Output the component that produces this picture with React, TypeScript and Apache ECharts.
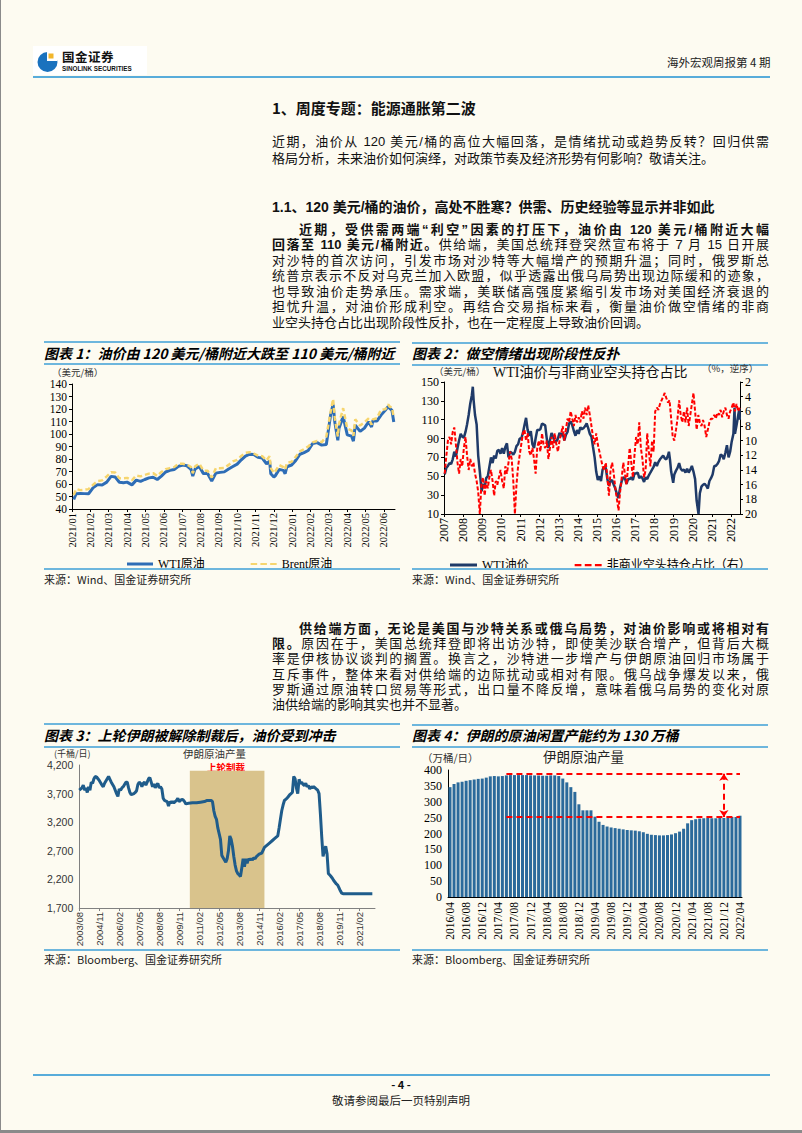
import React, { useEffect, useRef } from "react";
import * as echarts from "echarts";

const SERIF = "'Liberation Serif','Noto Sans CJK SC',serif";
const SANS = "'Liberation Sans','Noto Sans CJK SC',sans-serif";
const CJK = "'Noto Sans CJK SC','Liberation Sans',sans-serif";
const FRAME = "#6DB6DD";

/* ---------------- Chart 1 data ---------------- */
const c1Dates = [
  "2021-01-04","2021-01-08","2021-01-15","2021-01-22","2021-01-29","2021-02-05","2021-02-12","2021-02-19","2021-02-26",
  "2021-03-05","2021-03-12","2021-03-19","2021-03-26","2021-04-01","2021-04-09","2021-04-16","2021-04-23","2021-04-30",
  "2021-05-07","2021-05-14","2021-05-21","2021-05-28","2021-06-04","2021-06-11","2021-06-18","2021-06-25","2021-07-02",
  "2021-07-09","2021-07-16","2021-07-19","2021-07-23","2021-07-30","2021-08-06","2021-08-13","2021-08-20","2021-08-27",
  "2021-09-03","2021-09-10","2021-09-17","2021-09-24","2021-10-01","2021-10-08","2021-10-15","2021-10-22","2021-10-29",
  "2021-11-05","2021-11-12","2021-11-19","2021-11-24","2021-11-26","2021-12-01","2021-12-03","2021-12-10","2021-12-17",
  "2021-12-20","2021-12-23","2021-12-31","2022-01-07","2022-01-14","2022-01-21","2022-01-28","2022-02-04","2022-02-11",
  "2022-02-18","2022-02-25","2022-03-04","2022-03-08","2022-03-11","2022-03-16","2022-03-18","2022-03-25","2022-04-01",
  "2022-04-08","2022-04-11","2022-04-14","2022-04-22","2022-04-29","2022-05-06","2022-05-11","2022-05-13","2022-05-20",
  "2022-05-27","2022-06-03","2022-06-08","2022-06-10","2022-06-14","2022-06-17",
];
const c1Wti = [
  47.6,52.2,52.4,52.3,52.2,56.9,59.5,59.2,61.5,66.1,65.6,61.4,61.0,61.5,59.3,63.1,62.1,63.6,64.9,65.4,63.6,66.3,69.6,70.9,71.6,74.1,75.2,
  74.6,71.8,66.4,72.1,74.0,68.3,68.4,62.3,68.7,69.3,69.7,72.0,74.0,75.9,79.4,82.3,83.8,83.6,81.3,80.8,76.1,78.4,68.2,65.6,66.3,71.7,70.9,
  68.2,73.8,75.2,78.9,83.8,85.1,86.8,92.3,93.1,91.1,91.6,115.7,123.7,109.3,95.0,104.7,113.9,99.3,98.3,94.3,107.0,102.1,104.7,109.8,105.7,
  110.5,110.3,115.1,118.9,122.1,120.7,118.9,109.6,
];
const c1Brent = [
  51.1,56.0,55.1,55.4,55.9,59.3,62.4,62.9,66.1,69.4,69.2,64.5,64.6,64.9,63.0,66.8,66.1,67.3,68.3,68.7,66.4,69.6,71.9,72.7,73.5,76.2,76.2,
  75.6,73.6,68.6,74.1,76.3,70.7,70.6,65.2,72.7,72.6,72.9,75.3,78.1,79.3,82.4,84.9,85.5,84.4,82.7,82.2,78.9,82.3,72.7,68.9,69.9,75.2,73.5,
  71.5,76.9,77.8,81.8,86.1,87.9,90.0,93.3,94.4,93.5,97.9,118.1,128.0,112.7,98.0,107.9,120.7,104.4,102.8,98.5,111.7,106.7,109.3,112.4,107.5,
  111.6,112.6,119.4,119.7,123.6,122.0,121.2,113.1,
];
const c1Months = ["2021/01","2021/02","2021/03","2021/04","2021/05","2021/06","2021/07","2021/08","2021/09","2021/10","2021/11","2021/12",
  "2022/01","2022/02","2022/03","2022/04","2022/05","2022/06"];

/* ---------------- Chart 2 data ---------------- */
const c2Wti: [string, number][] = [
  ["2007-01",52],["2007-02",59],["2007-03",61],["2007-04",64],["2007-05",63],["2007-06",68],["2007-07",76],["2007-08",71],["2007-09",80],
  ["2007-10",88],["2007-11",95],["2007-12",92],["2008-01",91],["2008-02",97],["2008-03",105],["2008-04",115],["2008-05",127],["2008-06",136],
  ["2008-07-03",145],["2008-07-20",130],["2008-08",115],["2008-09",105],["2008-10",72],["2008-11",55],["2008-12-20",34],["2009-01",42],
  ["2009-02",38],["2009-03",48],["2009-04",50],["2009-05",60],["2009-06",70],["2009-07",64],["2009-08",72],["2009-09",69],["2009-10",77],
  ["2009-11",78],["2009-12",74],["2010-01",80],["2010-02",74],["2010-03",81],["2010-04",85],["2010-05",70],["2010-06",76],["2010-07",75],
  ["2010-08",73],["2010-09",76],["2010-10",82],["2010-11",84],["2010-12",90],["2011-01",90],["2011-02",96],["2011-03",104],["2011-04",112],
  ["2011-05",99],["2011-06",93],["2011-07",98],["2011-08",84],["2011-09",80],["2011-10",90],["2011-11",99],["2011-12",99],["2012-01",100],
  ["2012-02",106],["2012-03",105],["2012-04",104],["2012-05",90],["2012-06",80],["2012-07",88],["2012-08",96],["2012-09",92],["2012-10",86],
  ["2012-11",87],["2012-12",90],["2013-01",96],["2013-02",93],["2013-03",96],["2013-04",88],["2013-05",94],["2013-06",97],["2013-07",106],
  ["2013-08",108],["2013-09",104],["2013-10",98],["2013-11",93],["2013-12",99],["2014-01",95],["2014-02",102],["2014-03",100],["2014-04",101],
  ["2014-05",103],["2014-06",106],["2014-07",101],["2014-08",95],["2014-09",92],["2014-10",81],["2014-11",70],["2014-12",55],["2015-01",46],
  ["2015-02",50],["2015-03",45],["2015-04",57],["2015-05",60],["2015-06",59],["2015-07",47],["2015-08",40],["2015-09",45],["2015-10",46],
  ["2015-11",41],["2015-12",37],["2016-01",31],["2016-02-11",27],["2016-03",38],["2016-04",45],["2016-05",49],["2016-06",48],["2016-07",42],
  ["2016-08",47],["2016-09",47],["2016-10",49],["2016-11",46],["2016-12",53],["2017-01",53],["2017-02",54],["2017-03",48],["2017-04",50],
  ["2017-05",48],["2017-06",44],["2017-07",49],["2017-08",47],["2017-09",51],["2017-10",54],["2017-11",57],["2017-12",60],["2018-01",65],
  ["2018-02",61],["2018-03",65],["2018-04",68],["2018-05",70],["2018-06",72],["2018-07",69],["2018-08",68],["2018-09",72],["2018-10-03",76],
  ["2018-10-25",67],["2018-11",55],["2018-12-24",43],["2019-01",52],["2019-02",56],["2019-03",59],["2019-04",64],["2019-05",58],["2019-06",56],
  ["2019-07",57],["2019-08",54],["2019-09",58],["2019-10",54],["2019-11",57],["2019-12",61],["2020-01",55],["2020-02",47],["2020-03",24],
  ["2020-04-20",10],["2020-05",32],["2020-06",39],["2020-07",41],["2020-08",42],["2020-09",40],["2020-10",37],["2020-11",45],["2020-12",48],
  ["2021-01",52],["2021-02",61],["2021-03",61],["2021-04",63],["2021-05",66],["2021-06",73],["2021-07",72],["2021-08",68],["2021-09",75],
  ["2021-10",83],["2021-11",70],["2021-12",76],["2022-01",87],["2022-02",95],["2022-03-08",123],["2022-03-16",95],["2022-04",104],
  ["2022-05",114],["2022-06-08",122],["2022-06-17",110],
];
const c2Short: [string, number][] = [
  ["2007-01",14.5],["2007-02",12],["2007-03",10],["2007-04",9.5],["2007-05",10.5],["2007-06",8.8],["2007-07",8.2],["2007-08",10.5],
  ["2007-09",13],["2007-10",14.5],["2007-11",12.5],["2007-12",13.5],["2008-01",11],["2008-02",9.5],["2008-03",12],["2008-04",14],
  ["2008-05",12.5],["2008-06",13.5],["2008-07",13],["2008-08",14.5],["2008-09",15.5],["2008-10",17],["2008-11",20],["2008-12",16],
  ["2009-01",15],["2009-02",17.5],["2009-03",15.5],["2009-04",16.5],["2009-05",15],["2009-06",14],["2009-07",15.5],["2009-08",17.5],
  ["2009-09",15.5],["2009-10",16],["2009-11",15],["2009-12",14],["2010-01",15.5],["2010-02",16.5],["2010-03",13.5],["2010-04",14.5],
  ["2010-05",13],["2010-06",11.5],["2010-07",12.5],["2010-08",15.5],["2010-09",20],["2010-10",16],["2010-11",13.5],["2010-12",12],
  ["2011-01",10.5],["2011-02",9],["2011-03",8.5],["2011-04",10],["2011-05",9],["2011-06",11.5],["2011-07",12],["2011-08",11],
  ["2011-09",12.5],["2011-10",14.5],["2011-11",11],["2011-12",10],["2012-01",11.5],["2012-02",9],["2012-03",10.5],["2012-04",11],
  ["2012-05",10],["2012-06",12.5],["2012-07",11],["2012-08",9.5],["2012-09",11],["2012-10",9],["2012-11",10.5],["2012-12",11.5],
  ["2013-01",10],["2013-02",9],["2013-03",8],["2013-04",10],["2013-05",8.5],["2013-06",7],["2013-07",7.5],["2013-08",6],
  ["2013-09",7],["2013-10",8],["2013-11",6.5],["2013-12",7.5],["2014-01",6.8],["2014-02",7.5],["2014-03",6],["2014-04",7],
  ["2014-05",5.5],["2014-06",6.5],["2014-07",5.2],["2014-08",6.5],["2014-09",8],["2014-10",9.5],["2014-11",10.5],["2014-12",9],
  ["2015-01",10.5],["2015-02",11.5],["2015-03",12.5],["2015-04",13.5],["2015-05",14],["2015-06",13],["2015-07",15],["2015-08",17.5],
  ["2015-09",14],["2015-10",13],["2015-11",14.5],["2015-12",16.5],["2016-01",18],["2016-02",19.5],["2016-03",17],["2016-04",15],
  ["2016-05",13],["2016-06",14.5],["2016-07",16],["2016-08",13.5],["2016-09",11],["2016-10",13],["2016-11",15],["2016-12",12],
  ["2017-01",9.5],["2017-02",10.5],["2017-03",7.5],["2017-04",11],["2017-05",12.5],["2017-06",15],["2017-07",14],["2017-08",9],
  ["2017-09",11.5],["2017-10",13.5],["2017-11",10],["2017-12",11.5],["2018-01",6],["2018-02",5.5],["2018-03",5.8],["2018-04",5],
  ["2018-05",4.5],["2018-06",4],["2018-07",3.5],["2018-08",4.2],["2018-09",4.8],["2018-10",4.5],["2018-11",7],["2018-12",9.5],
  ["2019-01",10],["2019-02",8.5],["2019-03",7],["2019-04",4.5],["2019-05",6.5],["2019-06",7.5],["2019-07",6],["2019-08",7.5],
  ["2019-09",5.5],["2019-10",8],["2019-11",6.5],["2019-12",5],["2020-01",3.5],["2020-02",6],["2020-03",8.5],["2020-04",6.5],
  ["2020-05",7.5],["2020-06",8],["2020-07",7.2],["2020-08",8],["2020-09",9.5],["2020-10",8.5],["2020-11",7.5],["2020-12",7],
  ["2021-01",7],["2021-02",6.5],["2021-03",7],["2021-04",6.2],["2021-05",6.5],["2021-06",5.8],["2021-07",6.8],["2021-08",6],
  ["2021-09",5.5],["2021-10",6.5],["2021-11",7],["2021-12",6],["2022-01",5.5],["2022-02",4.8],["2022-03",6],["2022-04",5],
  ["2022-05",6],["2022-06",5.5],
];

/* ---------------- Chart 3 data ---------------- */
const c3Iran: [string, number][] = [
  ["2003/08",3760],["2003/10",3800],["2003/11",3850],["2003/12",3760],["2004/01",3800],["2004/02",3720],["2004/03",3820],["2004/04",3760],
  ["2004/05",3900],["2004/06",3880],["2004/07",3960],["2004/08",4000],["2004/09",3990],["2004/10",3960],["2004/11",3930],["2004/12",3890],
  ["2005/01",3850],["2005/02",3820],["2005/03",3880],["2005/04",3920],["2005/05",3960],["2005/06",4000],["2005/07",3950],["2005/08",3900],
  ["2005/09",3860],["2005/10",3820],["2005/11",3760],["2005/12",3700],["2006/01",3650],["2006/02",3780],["2006/03",3760],["2006/04",3800],
  ["2006/05",3820],["2006/06",3860],["2006/07",3900],["2006/08",3900],["2006/09",3800],["2006/10",3720],["2006/11",3680],["2006/12",3690],
  ["2007/01",3700],["2007/02",3720],["2007/03",3750],["2007/04",3860],["2007/05",3900],["2007/06",3880],["2007/07",3820],["2007/08",3880],
  ["2007/09",3900],["2007/10",3850],["2007/11",3900],["2007/12",3960],["2008/01",3980],["2008/02",3900],["2008/03",3820],["2008/04",3870],
  ["2008/05",3800],["2008/06",3850],["2008/07",3880],["2008/08",3800],["2008/09",3820],["2008/10",3780],["2008/11",3620],["2008/12",3580],
  ["2009/01",3570],["2009/02",3560],["2009/03",3480],["2009/04",3560],["2009/05",3540],["2009/06",3560],["2009/07",3540],["2009/08",3560],
  ["2009/09",3580],["2009/10",3620],["2009/11",3560],["2009/12",3580],["2010/01",3600],["2010/02",3590],["2010/03",3560],["2010/04",3520],
  ["2010/06",3530],["2010/09",3540],["2010/12",3540],["2011/03",3550],["2011/06",3560],["2011/08",3580],["2011/11",3580],["2011/12",3560],
  ["2012/01",3400],["2012/02",3300],["2012/03",3250],["2012/04",3100],["2012/05",3000],["2012/06",2900],["2012/07",2620],["2012/08",2580],
  ["2012/09",2540],["2012/10",2500],["2012/11",2560],["2012/12",2700],["2013/01",2960],["2013/02",2900],["2013/03",2780],["2013/04",2600],
  ["2013/05",2450],["2013/06",2350],["2013/07",2300],["2013/08",2280],["2013/09",2250],["2013/10",2400],["2013/11",2560],["2013/12",2420],
  ["2014/01",2560],["2014/02",2480],["2014/03",2560],["2014/04",2540],["2014/05",2560],["2014/06",2540],["2014/07",2580],["2014/08",2560],
  ["2014/09",2600],["2014/10",2620],["2014/11",2640],["2015/01",2660],["2015/03",2760],["2015/05",2800],["2015/07",2840],["2015/09",2880],
  ["2015/11",2920],["2016/01",2960],["2016/02",3100],["2016/03",3250],["2016/04",3400],["2016/05",3500],["2016/06",3580],["2016/07",3600],
  ["2016/08",3620],["2016/09",3650],["2016/10",3680],["2016/11",3700],["2016/12",3720],["2017/01",4000],["2017/02",3960],["2017/03",3800],
  ["2017/04",3700],["2017/05",3950],["2017/06",3880],["2017/07",3900],["2017/08",3860],["2017/09",3840],["2017/10",3880],["2017/11",3820],
  ["2017/12",3840],["2018/01",3780],["2018/02",3820],["2018/03",3800],["2018/04",3820],["2018/05",3800],["2018/06",3780],["2018/07",3760],
  ["2018/08",3700],["2018/09",3350],["2018/10",2950],["2018/11",2600],["2018/12",2700],["2019/01",2780],["2019/02",2650],["2019/03",2300],
  ["2019/04",2280],["2019/05",2250],["2019/06",2220],["2019/07",2180],["2019/08",2150],["2019/09",2120],["2019/10",2100],["2019/11",2050],
  ["2019/12",2000],["2020/01",1960],["2020/02",1950],["2021/12",1950],
];
const c3SanctionStart = "2010/07";
const c3SanctionEnd = "2015/03";
const c3SanctionTop = 4100;

/* ---------------- Chart 4 data ---------------- */
const c4Start = "2016/04";
const c4Values = [
  346,356,361,363,366,368,370,372,373,
  376,380,381,380,381,383,384,384,384,384,384,383,
  383,383,382,382,383,383,381,373,361,346,331,292,
  273,273,273,253,237,227,222,219,217,215,213,211,
  210,209,207,204,199,196,195,194,194,195,197,201,
  206,215,232,242,245,247,248,249,248,248,249,249,
  250,252,252,256,
];
const c4High = 388;
const c4Low = 252;
const c4LineFrom = "2017/06";
const c4ArrowAt = "2021/12";

/* ---------------- helpers ---------------- */
const dim = (y: number, m: number) => new Date(y, m, 0).getDate();
function c1Idx(s: string) {
  const [y, m, d] = s.split("-").map(Number);
  return (y - 2021) * 12 + (m - 1) + (d - 1) / dim(y, m);
}
function yearDec(s: string) {
  const p = s.split("-").map(Number);
  const d = p[2] ?? 15;
  return p[0] + (p[1] - 1) / 12 + (d - 1) / (12 * dim(p[0], p[1]));
}
function c3Idx(s: string) {
  const [y, m] = s.split("/").map(Number);
  return (y - 2003) * 12 + (m - 8);
}
function c3Label(i: number) {
  const t = 7 + i;
  return `${2003 + Math.floor(t / 12)}/${String((t % 12) + 1).padStart(2, "0")}`;
}
function monthSeq(start: string, n: number) {
  const [y0, m0] = start.split("/").map(Number);
  const out: string[] = [];
  for (let i = 0; i < n; i++) {
    const t = m0 - 1 + i;
    out.push(`${y0 + Math.floor(t / 12)}/${String((t % 12) + 1).padStart(2, "0")}`);
  }
  return out;
}
const c4Cats = monthSeq(c4Start, c4Values.length);

const axBlack = { lineStyle: { color: "#000", width: 1 } };
const DASH_ICON = "path://M0 0H6V2H0Z M9 0H15V2H9Z M18 0H24V2H18Z";

/* ---------------- options ---------------- */
const opt1: any = {
  animation: false,
  textStyle: { fontFamily: SERIF },
  grid: { left: 28, top: 26, width: 323, height: 125 },
  graphic: [{ type: "text", left: 8, top: 9, style: { text: "（美元/桶）", fontSize: 9.5, fill: "#333", fontFamily: CJK } }],
  legend: {
    left: 83, top: 200, padding: 0, itemWidth: 26, itemHeight: 3, itemGap: 46,
    textStyle: { fontSize: 12, fontFamily: SERIF, color: "#000" },
    data: [{ name: "WTI原油", icon: "rect" }, { name: "Brent原油", icon: DASH_ICON }],
  },
  xAxis: {
    type: "value", min: 0, max: 17.6, interval: 1,
    axisLine: axBlack, axisTick: { show: true, length: 3, lineStyle: { color: "#000" } }, splitLine: { show: false },
    axisLabel: { rotate: 90, fontSize: 10.5, color: "#000", margin: 4, showMaxLabel: false,
      formatter: (v: number) => (Number.isInteger(v) && c1Months[v] ? c1Months[v] : "") },
  },
  yAxis: {
    type: "value", min: 40, max: 140, interval: 10,
    axisLine: { show: true, ...axBlack }, axisTick: { show: true, length: 3, lineStyle: { color: "#000" } },
    splitLine: { show: false }, axisLabel: { fontSize: 11.5, color: "#000", margin: 5 },
  },
  series: [
    { name: "WTI原油", type: "line", symbol: "none", data: c1Dates.map((d, i) => [c1Idx(d), c1Wti[i]]),
      lineStyle: { color: "#2E6DB6", width: 3 }, itemStyle: { color: "#2E6DB6" } },
    { name: "Brent原油", type: "line", symbol: "none", data: c1Dates.map((d, i) => [c1Idx(d), c1Brent[i]]),
      lineStyle: { color: "#F6D56E", width: 2.5, type: [5, 3] }, itemStyle: { color: "#F6D56E" } },
  ],
};

const opt2: any = {
  animation: false,
  textStyle: { fontFamily: SERIF },
  grid: { left: 32, top: 24, width: 296, height: 132 },
  graphic: [
    { type: "text", left: 22, top: 8, style: { text: "（美元/桶）", fontSize: 9.5, fill: "#333", fontFamily: CJK } },
    { type: "text", left: 81, top: 7, style: { text: "WTI油价与非商业空头持仓占比", fontSize: 14, fill: "#111", fontFamily: SERIF } },
    { type: "text", left: 290, top: 5, style: { text: "（%，逆序）", fontSize: 9.5, fill: "#333", fontFamily: CJK } },
  ],
  legend: {
    left: 38, top: 201, padding: 0, itemWidth: 27, itemHeight: 3, itemGap: 46,
    textStyle: { fontSize: 12, fontFamily: SERIF, color: "#000" },
    data: [{ name: "WTI油价", icon: "rect" }, { name: "非商业空头持仓占比（右）", icon: DASH_ICON }],
  },
  xAxis: {
    type: "value", min: 2007, max: 2022.47, interval: 1,
    axisLine: axBlack, axisTick: { show: true, length: 3, lineStyle: { color: "#000" } }, splitLine: { show: false },
    axisLabel: { rotate: 90, fontSize: 12, color: "#000", margin: 4, showMaxLabel: false,
      formatter: (v: number) => (Number.isInteger(v) ? String(v) : "") },
  },
  yAxis: [
    { type: "value", min: 10, max: 150, interval: 20, position: "left",
      axisLine: { show: true, ...axBlack }, axisTick: { show: true, length: 3, lineStyle: { color: "#000" } },
      splitLine: { show: false }, axisLabel: { fontSize: 12, color: "#000", margin: 5 } },
    { type: "value", min: 2, max: 20, interval: 2, inverse: true, position: "right",
      axisLine: { show: true, ...axBlack }, axisTick: { show: true, length: 3, lineStyle: { color: "#000" } },
      splitLine: { show: false }, axisLabel: { fontSize: 12, color: "#000", margin: 5 } },
  ],
  series: [
    { name: "WTI油价", type: "line", symbol: "none", yAxisIndex: 0, data: c2Wti.map(([d, v]) => [yearDec(d), v]),
      lineStyle: { color: "#1F3A68", width: 2.5 }, itemStyle: { color: "#1F3A68" } },
    { name: "非商业空头持仓占比（右）", type: "line", symbol: "none", yAxisIndex: 1, data: c2Short.map(([d, v]) => [yearDec(d), v]),
      lineStyle: { color: "#FF0000", width: 2, type: [4, 2] }, itemStyle: { color: "#FF0000" } },
  ],
};

const c3Blue = "#1F5C8B";
const opt3: any = {
  animation: false,
  textStyle: { fontFamily: SANS },
  grid: { left: 31, top: 21, width: 300, height: 143 },
  graphic: [
    { type: "text", left: 10, top: 5, style: { text: "(千桶/日)", fontSize: 9, fill: "#333", fontFamily: CJK } },
    { type: "text", left: 139, top: 4, style: { text: "伊朗原油产量", fontSize: 10.5, fill: "#333", fontFamily: CJK } },
    { type: "text", left: 163, top: 18, style: { text: "上轮制裁", fontSize: 9.5, fontWeight: "bold", fill: "#FF0000", fontFamily: CJK } },
  ],
  xAxis: {
    type: "value", min: 0, max: 222, interval: 15,
    axisLine: { lineStyle: { color: "#808080" } }, axisTick: { show: true, length: 3, lineStyle: { color: "#808080" } },
    splitLine: { show: false },
    axisLabel: { rotate: 90, fontSize: 9.5, color: "#333", margin: 4, showMaxLabel: false,
      formatter: (v: number) => (v % 15 === 0 ? c3Label(v) : "") },
  },
  yAxis: {
    type: "value", min: 1700, max: 4200, interval: 500,
    axisLine: { show: true, lineStyle: { color: "#808080" } }, axisTick: { show: false },
    splitLine: { show: false },
    axisLabel: { fontSize: 10.5, color: "#333", margin: 6, formatter: (v: number) => v.toLocaleString("en-US") },
  },
  visualMap: [{
    type: "piecewise", show: false, dimension: 0, seriesIndex: 0,
    pieces: [
      { lt: c3Idx(c3SanctionStart), color: c3Blue },
      { gte: c3Idx(c3SanctionStart), lte: c3Idx(c3SanctionEnd), color: "#3B5A4E" },
      { gt: c3Idx(c3SanctionEnd), color: c3Blue },
    ],
  }],
  series: [
    { type: "line", symbol: "none", data: c3Iran.map(([d, v]) => [c3Idx(d), v]),
      lineStyle: { color: c3Blue, width: 3 }, z: 3,
      markArea: { silent: true, itemStyle: { color: "#D9C38C" },
        data: [[{ xAxis: c3Idx(c3SanctionStart), yAxis: 1700 }, { xAxis: c3Idx(c3SanctionEnd), yAxis: c3SanctionTop }]] } },
  ],
};

const opt4: any = {
  animation: false,
  textStyle: { fontFamily: SERIF },
  grid: { left: 36, top: 26, width: 294, height: 127 },
  graphic: [
    { type: "text", left: 10, top: 8, style: { text: "（万桶/日）", fontSize: 10.5, fill: "#333", fontFamily: CJK } },
    { type: "text", left: 131, top: 5, style: { text: "伊朗原油产量", fontSize: 13.5, fill: "#222", fontFamily: CJK } },
  ],
  xAxis: {
    type: "category", data: c4Cats,
    axisLine: axBlack, axisTick: { show: false },
    axisLabel: { rotate: 90, interval: 3, fontSize: 11.5, color: "#000", margin: 5 },
  },
  yAxis: {
    type: "value", min: 0, max: 400, interval: 50,
    axisLine: { show: true, ...axBlack }, axisTick: { show: false },
    splitLine: { show: false }, axisLabel: { fontSize: 12, color: "#000", margin: 6 },
  },
  series: [{
    type: "bar", data: c4Values, barWidth: 3, itemStyle: { color: "#2B6A9B" },
    markLine: {
      silent: true, symbol: ["none", "none"], label: { show: false },
      lineStyle: { color: "#FF0000", type: [6, 4], width: 2 },
      data: [
        [{ coord: [c4LineFrom, c4High] }, { coord: [c4Cats[c4Cats.length - 1], c4High] }],
        [{ coord: [c4LineFrom, c4Low] }, { coord: [c4Cats[c4Cats.length - 1], c4Low] }],
        [{ coord: [c4ArrowAt, c4High], symbol: "arrow", symbolSize: 7 }, { coord: [c4ArrowAt, c4Low], symbol: "arrow", symbolSize: 7 }],
      ],
    },
  }],
};

/* ---------------- components ---------------- */
function EChart({ option, left, top, width, height }: any) {
  const ref = useRef<HTMLDivElement>(null);
  useEffect(() => {
    const chart = echarts.init(ref.current!, null, { renderer: "svg" });
    chart.setOption(option);
    return () => chart.dispose();
  }, [option]);
  return <div ref={ref} style={{ position: "absolute", left, top, width, height }} />;
}

const Hl = ({ x1, x2, y, w = 1.5, c = FRAME }: any) => (
  <div style={{ position: "absolute", left: x1, top: y - w / 2, width: x2 - x1, height: w, background: c }} />
);

const Line = ({ y, children, last = false, indent = 0, left = 272, width = 497 }: any) => (
  <div style={{
    position: "absolute", left: left + indent, top: y - 6.5, width: width - indent, height: 13,
    fontSize: 13, lineHeight: "13px", color: "#111", fontFamily: SANS,
    textAlign: last ? "left" : "justify", textAlignLast: last ? "left" : "justify",
  } as any}>{children}</div>
);

const Title = ({ x, y, children }: any) => (
  <div style={{ position: "absolute", left: x, top: y - 9, height: 18, lineHeight: "18px", fontSize: 14, fontWeight: 700,
    fontStyle: "italic", color: "#000", fontFamily: CJK, whiteSpace: "nowrap" }}>{children}</div>
);

const Src = ({ x, y, children }: any) => (
  <div style={{ position: "absolute", left: x, top: y - 7, lineHeight: "14px", fontSize: 11, color: "#222", fontFamily: CJK,
    whiteSpace: "nowrap" }}>{children}</div>
);

export default function App() {
  return (
    <div style={{ position: "absolute", left: 0, top: 0, width: 802, height: 1133, background: "#FDFBF1", overflow: "hidden",
      fontFamily: CJK }}>
      <div style={{ position: "absolute", left: 0, top: 0, width: 1, height: 1133, background: "#8a8a8a" }} />
      <div style={{ position: "absolute", left: 0, top: 1130, width: 802, height: 3, background: "#8a8a8a" }} />

      {/* header */}
      <div style={{ position: "absolute", left: 33, top: 46, width: 114, height: 29, background: "#FFFFFF" }} />
      <svg style={{ position: "absolute", left: 37, top: 49 }} width="22" height="24" viewBox="0 0 22 24">
        <circle cx="10.5" cy="13" r="10" fill="#1A72BE" />
        <rect x="10" y="3" width="10" height="9" fill="#FFFFFF" />
        <rect x="11.5" y="4.5" width="5" height="5" fill="#F2B62B" />
      </svg>
      <div style={{ position: "absolute", left: 62, top: 49, fontSize: 12.5, fontWeight: 700, lineHeight: "15px", color: "#111",
        letterSpacing: 0.5 }}>国金证券</div>
      <div style={{ position: "absolute", left: 62, top: 65, fontSize: 6.3, fontWeight: 700, lineHeight: "8px", color: "#111",
        fontFamily: SANS, whiteSpace: "nowrap" }}>SINOLINK SECURITIES</div>
      <div style={{ position: "absolute", left: 667, top: 55, fontSize: 11.5, lineHeight: "14px", color: "#222",
        whiteSpace: "nowrap" }}>海外宏观周报第 4 期</div>
      <Hl x1={33} x2={770} y={77} w={2} c="#58ACDA" />

      {/* headings + text */}
      <div style={{ position: "absolute", left: 272, top: 99, fontSize: 15, fontWeight: 700, lineHeight: "18px", color: "#111" }}>
        1、周度专题：能源通胀第二波
      </div>
      <Line y={141}>近期，油价从 120 美元/桶的高位大幅回落，是情绪扰动或趋势反转？回归供需</Line>
      <Line y={158} last>格局分析，未来油价如何演绎，对政策节奏及经济形势有何影响？敬请关注。</Line>

      <div style={{ position: "absolute", left: 272, top: 198, fontSize: 14, fontWeight: 700, lineHeight: "18px", color: "#111",
        whiteSpace: "nowrap", fontFamily: SANS }}>
        1.1、120 美元/桶的油价，高处不胜寒？供需、历史经验等显示并非如此
      </div>
      <Line y={229} indent={27}><b>近期，受供需两端“利空”因素的打压下，油价由 120 美元/桶附近大幅</b></Line>
      <Line y={244.5}><b>回落至 110 美元/桶附近。</b>供给端，美国总统拜登突然宣布将于 7 月 15 日开展</Line>
      <Line y={260}>对沙特的首次访问，引发市场对沙特等大幅增产的预期升温；同时，俄罗斯总</Line>
      <Line y={275.5}>统普京表示不反对乌克兰加入欧盟，似乎透露出俄乌局势出现边际缓和的迹象，</Line>
      <Line y={291}>也导致油价走势承压。需求端，美联储高强度紧缩引发市场对美国经济衰退的</Line>
      <Line y={306.5}>担忧升温，对油价形成利空。再结合交易指标来看，衡量油价做空情绪的非商</Line>
      <Line y={322} last>业空头持仓占比出现阶段性反扑，也在一定程度上导致油价回调。</Line>

      {/* chart 1 & 2 frames */}
      <Hl x1={44} x2={400} y={342} />
      <Title x={44} y={353}>图表 1：油价由 120 美元/桶附近大跌至 110 美元/桶附近</Title>
      <Hl x1={44} x2={400} y={364} />
      <EChart option={opt1} left={44} top={358} width={356} height={216} />
      <Hl x1={44} x2={400} y={569} />
      <Src x={44} y={579}>来源：Wind、国金证券研究所</Src>

      <Hl x1={412} x2={768} y={343} />
      <Title x={412} y={353}>图表 2：做空情绪出现阶段性反扑</Title>
      <Hl x1={412} x2={768} y={365} />
      <EChart option={opt2} left={412} top={358} width={356} height={216} />
      <Hl x1={412} x2={768} y={569} />
      <Src x={412} y={579}>来源：Wind、国金证券研究所</Src>

      {/* second text block */}
      <Line y={628} indent={27}><b>供给端方面，无论是美国与沙特关系或俄乌局势，对油价影响或将相对有</b></Line>
      <Line y={643}><b>限。</b>原因在于，美国总统拜登即将出访沙特，即使美沙联合增产，但背后大概</Line>
      <Line y={658.5}>率是伊核协议谈判的搁置。换言之，沙特进一步增产与伊朗原油回归市场属于</Line>
      <Line y={674}>互斥事件，整体来看对供给端的边际扰动或相对有限。俄乌战争爆发以来，俄</Line>
      <Line y={689}>罗斯通过原油转口贸易等形式，出口量不降反增，意味着俄乌局势的变化对原</Line>
      <Line y={704} last>油供给端的影响其实也并不显著。</Line>

      {/* chart 3 & 4 frames */}
      <Hl x1={44} x2={400} y={724} />
      <Title x={44} y={735}>图表 3：上轮伊朗被解除制裁后，油价受到冲击</Title>
      <Hl x1={44} x2={400} y={747} />
      <EChart option={opt3} left={44} top={744} width={356} height={206} />
      <Hl x1={44} x2={400} y={950} />
      <Src x={44} y={959}>来源：Bloomberg、国金证券研究所</Src>

      <Hl x1={412} x2={768} y={725} />
      <Title x={412} y={735}>图表 4：伊朗的原油闲置产能约为 130 万桶</Title>
      <Hl x1={412} x2={768} y={747} />
      <EChart option={opt4} left={412} top={744} width={356} height={206} />
      <Hl x1={412} x2={768} y={950} />
      <Src x={412} y={959}>来源：Bloomberg、国金证券研究所</Src>

      {/* footer */}
      <Hl x1={33} x2={770} y={1075} w={1.5} c="#58ACDA" />
      <div style={{ position: "absolute", left: 0, width: 802, top: 1078, textAlign: "center", fontSize: 11, fontWeight: 700,
        lineHeight: "13px", color: "#111" }}>- 4 -</div>
      <div style={{ position: "absolute", left: 0, width: 802, top: 1093, textAlign: "center", fontSize: 11.5,
        lineHeight: "14px", color: "#222" }}>敬请参阅最后一页特别声明</div>
    </div>
  );
}
